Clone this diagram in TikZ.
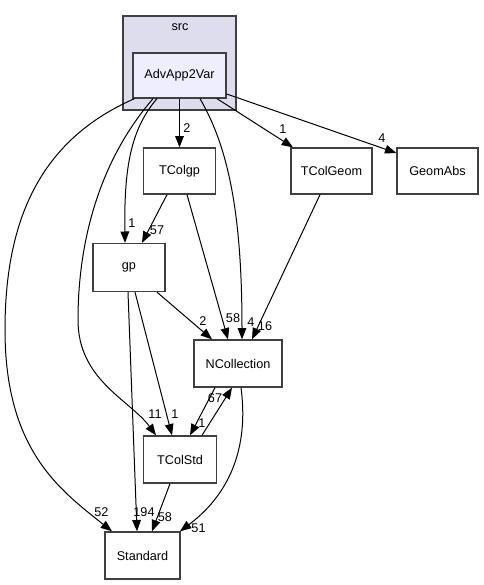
\documentclass[tikz,border=0pt]{standalone}
\usepackage{fontspec}
\setmainfont{Liberation Sans}
\usepackage{tikz}
\usetikzlibrary{positioning, arrows.meta, calc}
\definecolor{srcBg}{HTML}{DDDDEE}
\definecolor{advBg}{HTML}{EEEEFF}
\definecolor{boxLine}{HTML}{404040}
\definecolor{edgeBlack}{HTML}{000000}

\begin{document}
\begin{tikzpicture}[
  x=0.75pt, y=-0.75pt,
  every node/.style={font=\fontsize{9.5}{11}\selectfont},
  srcB/.style={rectangle, draw=boxLine, line width=1pt, fill=srcBg, inner sep=0pt},
  dirB/.style={rectangle, draw=boxLine, line width=1pt, fill=white, inner sep=0pt,
               minimum height=34.5pt, align=center},
  dep/.style={draw=edgeBlack, line width=0.75pt, -{Triangle[length=8.5pt, width=6.5pt]}},
  lbl/.style={inner sep=0pt},
]
  \path[use as bounding box, fill=white] (0,0) rectangle (483,585);

  \node[srcB, minimum width=84.75pt, minimum height=70.5pt] (src) at (179.5,63) {};
  \node (srcL) at (180,27) {src};
  \node[dirB, fill=advBg, minimum width=69.75pt, minimum height=33.75pt] (adv) at (179.5,75.5) {AdvApp2Var};

  \node[dirB, minimum width=54pt] (tcolgp) at (179.5,171) {TColgp};
  \node[dirB, minimum width=60.75pt] (tcolgeom) at (331.5,171) {TColGeom};
  \node[dirB, minimum width=60.75pt] (geomabs) at (437.5,171) {GeomAbs};
  \node[dirB, minimum width=54pt, minimum height=36pt] (gp) at (129,267.5) {gp};
  \node[dirB, minimum width=66pt, minimum height=35.25pt] (ncoll) at (238,363.5) {NCollection};
  \node[dirB, minimum width=54.75pt, minimum height=35.25pt] (tcolstd) at (180,459.5) {TColStd};
  \node[dirB, minimum width=56.25pt, minimum height=35.25pt] (standard) at (142.5,555.5) {Standard};

  \draw[dep] (adv.south) -- (tcolgp.north);
  \draw[dep] ($(adv.south)+(37.5,0)$) -- ($(tcolgeom.north)+(-38.5,0)$);
  \draw[dep] ($(adv.east)+(0,18.5)$) -- ($(geomabs.west)+(0,-18)$);
  \draw[dep] ($(adv.south)+(-22.5,0)$) .. controls (130,130) and (124,170) .. ($(gp.north)+(-4,0)$);
  \draw[dep] ($(adv.south)+(-26.5,0)$) .. controls (100,160) and (78,240) .. (78,320)
             .. controls (78,380) and (130,400) .. ($(tcolstd.north)+(-24,0)$);
  \draw[dep] ($(adv.south)+(-45,0)$) .. controls (40,140) and (5,220) .. (5,330)
             .. controls (5,450) and (60,490) .. ($(standard.north)+(-30.5,0)$);
  \draw[dep] ($(adv.south)+(20.5,0)$) .. controls (230,150) and (242,220) .. ($(ncoll.north)+(4,0)$);

  \draw[dep] ($(tcolgp.south)+(-12.5,0)$) -- ($(gp.north)+(13,0)$);
  \draw[dep] ($(tcolgp.south)+(7.5,0)$) -- ($(ncoll.north)+(-10,0)$);
  \draw[dep] ($(tcolgeom.south)+(-11.5,0)$) -- ($(ncoll.north)+(14,0)$);

  \draw[dep] ($(gp.south)+(28,0)$) -- ($(ncoll.north)+(-26,0)$);
  \draw[dep] ($(gp.south)+(6,0)$) -- ($(tcolstd.north)+(-8,0)$);
  \draw[dep] ($(gp.south)+(-1,0)$) -- ($(standard.north)+(-5.5,0)$);

  \draw[dep] ($(ncoll.south)+(-23,0)$) -- ($(tcolstd.north)+(10,0)$);
  \draw[dep] ($(tcolstd.north)+(22,0)$) -- ($(ncoll.south)+(-6,0)$);
  \draw[dep] ($(ncoll.south)+(3,0)$) .. controls (248,440) and (235,490) .. ($(standard.north)+(37.5,0)$);
  \draw[dep] ($(tcolstd.south)+(-10,0)$) -- ($(standard.north)+(9.5,0)$);

  \node[lbl] (lTcg) at (187,128) {2};
  \node[lbl] (lGeom) at (283,129) {1};
  \node[lbl] (lAbs) at (382,138) {4};
  \node[lbl] (lGp) at (132,223) {1};
  \node[lbl] (lTcgGp) at (157,230) {57};
  \node[lbl] (lGpNc) at (203,321) {2};
  \node[lbl] (lTcgNc) at (233,318) {58};
  \node[lbl] (lAdvNc) at (251,322) {4};
  \node[lbl] (lGeomNc) at (265,326) {16};
  \node[lbl] (lStdNc) at (215,398) {67};
  \node[lbl] (lNcStd) at (202,423) {1};
  \node[lbl] (lAdvStd) at (155,414) {11};
  \node[lbl] (lGpStd) at (175,414) {1};
  \node[lbl] (lAdvS) at (101.5,512) {52};
  \node[lbl] (lGpS) at (144,512) {194};
  \node[lbl] (lStdS) at (165,517) {58};
  \node[lbl] (lNcS) at (198.5,528) {51};
\end{tikzpicture}
\end{document}
